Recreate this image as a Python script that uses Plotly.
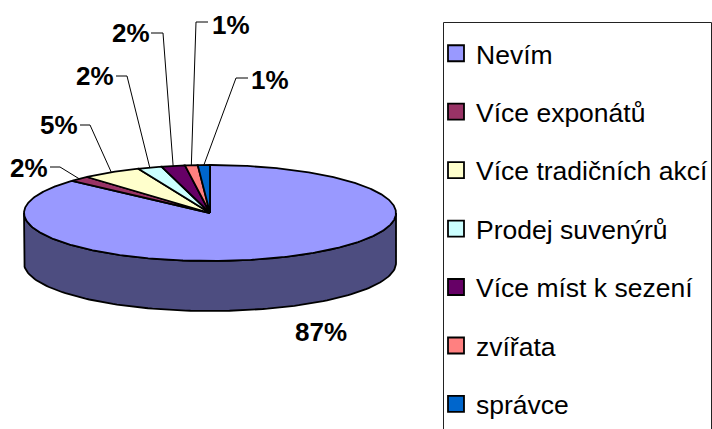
import numpy as np
import plotly.graph_objects as go

# ---- data ----
categories = ["Nevím", "Více exponátů", "Více tradičních akcí", "Prodej suvenýrů",
              "Více míst k sezení", "zvířata", "správce"]
values = [86.7, 1.8, 5.2, 2.1, 2.05, 1.1, 1.05]
colors = ["#9999FF", "#993366", "#FFFFCC", "#CCFFFF", "#660066", "#FF8080", "#0066CC"]
wall_color = "#4D4D80"

# ---- layout of the 3-D pie (page pixels) ----
W, H = 712, 429
CX, CY, RX, RY, DEPTH = 210, 213, 186, 48, 50
FONT = "Liberation Sans"
OUTLINE = 1.8


def rim(theta_deg):
    t = np.radians(theta_deg)
    return CX + RX * np.sin(t), CY - RY * np.cos(t)


fig = go.Figure()

# side wall
ts = np.linspace(90, 270, 121)
wx, wy = rim(ts)
fig.add_trace(go.Scatter(
    x=np.r_[wx, wx[::-1], wx[0]], y=np.r_[wy, wy[::-1] + DEPTH, wy[0]],
    mode="lines", fill="toself", fillcolor=wall_color,
    line=dict(color="black", width=OUTLINE), hoverinfo="skip", showlegend=False))

# slices
fracs = np.array(values) / sum(values) * 360
ends = np.cumsum(fracs)
starts = ends - fracs
for name, a, b, c in zip(categories, starts, ends, colors):
    t = np.linspace(a, b, max(int(b - a) * 2, 8))
    x, y = rim(t)
    fig.add_trace(go.Scatter(
        x=np.r_[CX, x, CX], y=np.r_[CY, y, CY],
        mode="lines", fill="toself", fillcolor=c, name=name,
        line=dict(color="black", width=OUTLINE), hoverinfo="skip", showlegend=False))

# labels: knee offset from rim point and label offset, per slice
label_text = [f"{round(v)}%" for v in values]
knee_pos = [None, (60, 167), (90, 125), (127, 76), (163, 33), (196, 22), (236, 78)]
text_pos = [(321, 332), (29, 168), (59, 125), (95, 76), (131, 33), (231, 25), (270, 80)]
tail_pos = [None, (50, 167), (80, 125), (116, 76), (151, 33), (208, 22), (248, 78)]
mids = (starts + ends) / 2
for i, txt in enumerate(label_text):
    fig.add_annotation(x=text_pos[i][0], y=text_pos[i][1], text=f"<b>{txt}</b>", showarrow=False,
                       xref="x", yref="y", font=dict(family=FONT, size=26, color="black"))
    if knee_pos[i] is not None:
        ax, ay = rim(mids[i])
        fig.add_trace(go.Scatter(
            x=[tail_pos[i][0], knee_pos[i][0], float(ax)],
            y=[tail_pos[i][1], knee_pos[i][1], float(ay)],
            mode="lines", line=dict(color="black", width=1), hoverinfo="skip", showlegend=False))

# legend entries
for i, (name, c) in enumerate(zip(categories, colors)):
    fig.add_trace(go.Scatter(
        x=[None], y=[None], mode="markers", name=name, legendgroup=name,
        marker=dict(symbol="square", size=16, color=c, line=dict(color="black", width=1.8))))

# legend frame
fig.add_shape(type="line", x0=443.5, x1=443.5, y0=22.5, y1=440, line=dict(color="#222", width=1))
fig.add_shape(type="line", x0=443.5, x1=711.5, y0=22.5, y1=22.5, line=dict(color="#222", width=1))
fig.add_shape(type="line", x0=711.5, x1=711.5, y0=22.5, y1=440, line=dict(color="#222", width=1))

fig.update_layout(
    width=W, height=H,
    margin=dict(l=0, r=0, t=0, b=0, autoexpand=False),
    paper_bgcolor="white", plot_bgcolor="white",
    font=dict(family=FONT, color="black"),
    xaxis=dict(range=[0, W], visible=False, fixedrange=True),
    yaxis=dict(range=[H, 0], visible=False, fixedrange=True),
    legend=dict(x=436 / W, xanchor="left", y=1 - 29.5 / H, yanchor="top",
                font=dict(family=FONT, size=26.5, color="black"),
                tracegroupgap=21, bgcolor="rgba(0,0,0,0)", borderwidth=0,
                itemclick=False, itemdoubleclick=False),
)
fig.write_html("out.html", config={"displayModeBar": False},
               post_script="document.body.style.margin='0';document.documentElement.style.overflow='hidden';")
